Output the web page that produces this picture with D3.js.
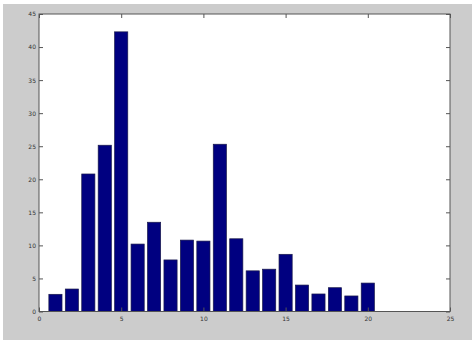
<!DOCTYPE html>
<html>
<head>
<meta charset="utf-8">
<script src="https://cdnjs.cloudflare.com/ajax/libs/d3/7.8.5/d3.min.js"></script>
<style>
body { margin: 0; background: #fff; }
svg text { font-family: "DejaVu Sans", sans-serif; font-size: 6px; fill: #333; }
</style>
</head>
<body>
<div class="canvas"></div>
<script>
var W = 472, H = 340;

// bar values
var categories = [1, 2, 3, 4, 5, 6, 7, 8, 9, 10, 11, 12, 13, 14, 15, 16, 17, 18, 19, 20];
var values = [2.6, 3.4, 20.8, 25.15, 42.3, 10.2, 13.5, 7.8, 10.8, 10.65, 25.3, 11.0, 6.15, 6.4, 8.65, 4.0, 2.65, 3.6, 2.35, 4.3];
var x_ticks = [0, 5, 10, 15, 20, 25];
var y_ticks = [0, 5, 10, 15, 20, 25, 30, 35, 40, 45];

var ax_l = 39, ax_r = 450, ax_t = 14, ax_b = 311.5;

var svg = d3.select("div.canvas").append("svg")
	.attr("width", W).attr("height", H);

// figure background
svg.append("rect")
	.attr("x", 3).attr("y", 4)
	.attr("width", W - 3).attr("height", H - 4)
	.attr("fill", "#cccccc");

var x = d3.scaleLinear().domain([0, 25]).range([ax_l, ax_r]);
var y = d3.scaleLinear().domain([0, 45]).range([ax_b, ax_t]);

svg.append("rect")
	.attr("x", ax_l).attr("y", ax_t)
	.attr("width", ax_r - ax_l).attr("height", ax_b - ax_t)
	.attr("fill", "white");

var bw = x(0.8) - x(0);

svg.append("g").selectAll("rect")
	.data(categories)
	.enter().append("rect")
	.attr("x", function(d) { return x(d) - bw / 2; })
	.attr("y", function(d, i) { return y(values[i]); })
	.attr("width", bw)
	.attr("height", function(d, i) { return y(0) - y(values[i]); })
	.attr("fill", "#000080")
	.attr("stroke", "#1a1a4a")
	.attr("stroke-width", 0.7);

// box
svg.append("rect")
	.attr("x", ax_l).attr("y", ax_t)
	.attr("width", ax_r - ax_l).attr("height", ax_b - ax_t)
	.attr("fill", "none")
	.attr("stroke", "#555")
	.attr("stroke-width", 1);

var tk = 4;

var xb = svg.append("g").attr("transform", "translate(0," + ax_b + ")")
	.call(d3.axisBottom(x).tickValues(x_ticks).tickSize(-tk).tickPadding(5));
var xt = svg.append("g").attr("transform", "translate(0," + ax_t + ")")
	.call(d3.axisTop(x).tickValues(x_ticks).tickSize(-tk).tickFormat(""));
var yl = svg.append("g").attr("transform", "translate(" + ax_l + ",0)")
	.call(d3.axisLeft(y).tickValues(y_ticks).tickSize(-tk).tickPadding(3));
var yr = svg.append("g").attr("transform", "translate(" + ax_r + ",0)")
	.call(d3.axisRight(y).tickValues(y_ticks).tickSize(-tk).tickFormat(""));

[xb, xt, yl, yr].forEach(function(g) {
	g.select(".domain").remove();
	g.selectAll(".tick line").attr("stroke", "#555");
	g.selectAll("text").attr("font-size", null).attr("font-family", null);
});
</script>
</body>
</html>
